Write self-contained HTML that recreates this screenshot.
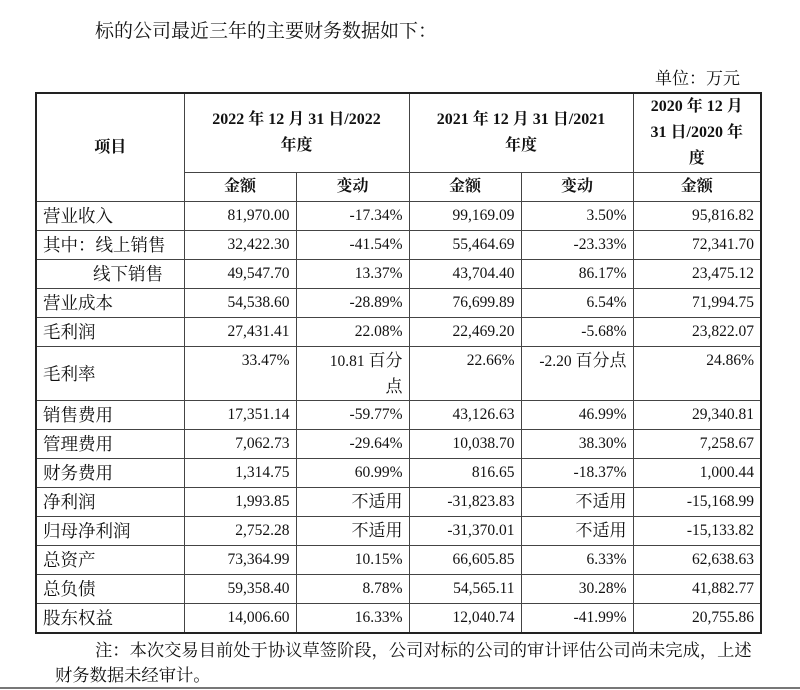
<!DOCTYPE html>
<html><head><meta charset="utf-8"><style>
body{margin:0;width:800px;height:690px;background:#fff;position:relative;overflow:hidden;font-family:"Liberation Serif","Noto Serif CJK SC",serif;color:#111}
.t{position:absolute;white-space:nowrap}
table{position:absolute;left:35px;top:92px;border-collapse:collapse;border:2px solid #222;font-size:15.5px;table-layout:fixed}
td{border:1px solid #444;padding:0 6px;line-height:20px;vertical-align:middle}
td:first-child{font-size:17.5px}
.c{font-size:17px}
td.n{text-align:right}
td.h{text-align:center;font-weight:bold;font-size:16px;line-height:26px}
tr{height:29px}
.foot{position:absolute;left:0;top:687px;width:800px;height:2px;background:#777}
</style></head><body>
<div class="t" style="left:95px;top:16px;font-size:19px">标的公司最近三年的主要财务数据如下：</div>
<div class="t" style="left:655px;top:64px;font-size:17px">单位：万元</div>
<table>
<colgroup><col style="width:148px"><col style="width:112px"><col style="width:113px"><col style="width:112px"><col style="width:112px"><col style="width:128px"></colgroup>
<tr style="height:79px"><td class="h" rowspan="2">项目</td><td class="h" colspan="2">2022 年 12 月 31 日/2022<br>年度</td><td class="h" colspan="2">2021 年 12 月 31 日/2021<br>年度</td><td class="h">2020 年 12 月<br>31 日/2020 年<br>度</td></tr>
<tr style="height:29px"><td class="h">金额</td><td class="h">变动</td><td class="h">金额</td><td class="h">变动</td><td class="h">金额</td></tr>
<tr><td>营业收入</td><td class="n">81,970.00</td><td class="n">-17.34%</td><td class="n">99,169.09</td><td class="n">3.50%</td><td class="n">95,816.82</td></tr>
<tr><td>其中：线上销售</td><td class="n">32,422.30</td><td class="n">-41.54%</td><td class="n">55,464.69</td><td class="n">-23.33%</td><td class="n">72,341.70</td></tr>
<tr><td style="padding-left:56px">线下销售</td><td class="n">49,547.70</td><td class="n">13.37%</td><td class="n">43,704.40</td><td class="n">86.17%</td><td class="n">23,475.12</td></tr>
<tr><td>营业成本</td><td class="n">54,538.60</td><td class="n">-28.89%</td><td class="n">76,699.89</td><td class="n">6.54%</td><td class="n">71,994.75</td></tr>
<tr><td>毛利润</td><td class="n">27,431.41</td><td class="n">22.08%</td><td class="n">22,469.20</td><td class="n">-5.68%</td><td class="n">23,822.07</td></tr>
<tr style="height:54px"><td>毛利率</td><td class="n" style="vertical-align:top;padding-top:4px">33.47%</td><td class="n" style="line-height:25px">10.81 <span class="c">百分</span><br><span class="c">点</span></td><td class="n" style="vertical-align:top;padding-top:4px">22.66%</td><td class="n" style="vertical-align:top;padding-top:4px">-2.20 <span class="c">百分点</span></td><td class="n" style="vertical-align:top;padding-top:4px">24.86%</td></tr>
<tr><td>销售费用</td><td class="n">17,351.14</td><td class="n">-59.77%</td><td class="n">43,126.63</td><td class="n">46.99%</td><td class="n">29,340.81</td></tr>
<tr><td>管理费用</td><td class="n">7,062.73</td><td class="n">-29.64%</td><td class="n">10,038.70</td><td class="n">38.30%</td><td class="n">7,258.67</td></tr>
<tr><td>财务费用</td><td class="n">1,314.75</td><td class="n">60.99%</td><td class="n">816.65</td><td class="n">-18.37%</td><td class="n">1,000.44</td></tr>
<tr><td>净利润</td><td class="n">1,993.85</td><td class="n c">不适用</td><td class="n">-31,823.83</td><td class="n c">不适用</td><td class="n">-15,168.99</td></tr>
<tr><td>归母净利润</td><td class="n">2,752.28</td><td class="n c">不适用</td><td class="n">-31,370.01</td><td class="n c">不适用</td><td class="n">-15,133.82</td></tr>
<tr><td>总资产</td><td class="n">73,364.99</td><td class="n">10.15%</td><td class="n">66,605.85</td><td class="n">6.33%</td><td class="n">62,638.63</td></tr>
<tr><td>总负债</td><td class="n">59,358.40</td><td class="n">8.78%</td><td class="n">54,565.11</td><td class="n">30.28%</td><td class="n">41,882.77</td></tr>
<tr><td>股东权益</td><td class="n">14,006.60</td><td class="n">16.33%</td><td class="n">12,040.74</td><td class="n">-41.99%</td><td class="n">20,755.86</td></tr>
</table>
<div class="t" style="left:95px;top:636px;font-size:17.3px">注：本次交易目前处于协议草签阶段，公司对标的公司的审计评估公司尚未完成，上述</div>
<div class="t" style="left:55px;top:661px;font-size:17.3px">财务数据未经审计。</div>
<div class="foot"></div>
</body></html>
